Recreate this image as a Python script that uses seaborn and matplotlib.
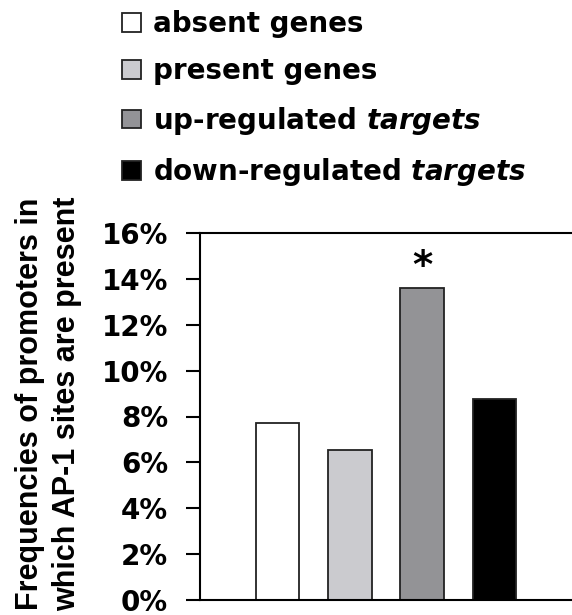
import pandas as pd
import numpy as np
import seaborn as sns
import matplotlib.pyplot as plt
from matplotlib.patches import Patch

# values (percent)
groups = ['absent genes', 'present genes', 'up-regulated targets', 'down-regulated targets']
legend_labels = ['absent genes', 'present genes',
                 r'up-regulated $\mathit{targets}$', r'down-regulated $\mathit{targets}$']
freq = [7.7, 6.55, 13.6, 8.75]
colors = ['#ffffff', '#cbcbcf', '#939397', '#000000']
yticks = [0, 2, 4, 6, 8, 10, 12, 14, 16]

df = pd.DataFrame({'group': groups, 'freq': freq})

sns.set_style('white')
plt.rcParams['font.family'] = ['DejaVu Sans']
plt.rcParams['font.weight'] = 'bold'
plt.rcParams['text.color'] = 'black'
plt.rcParams['axes.labelcolor'] = 'black'
plt.rcParams['ytick.color'] = 'black'
plt.rcParams['mathtext.fontset'] = 'custom'
plt.rcParams['mathtext.it'] = 'DejaVu Sans:italic:bold'
plt.rcParams['mathtext.rm'] = 'DejaVu Sans:bold'

fig = plt.figure(figsize=(5.72, 6.15), dpi=100)
ax = fig.add_axes([200 / 572, 1 - 600 / 615, 1 - 200 / 572, (600 - 233) / 615])

sns.barplot(data=df, x='group', y='freq', hue='group', palette=colors,
            edgecolor='#222222', linewidth=1.3, width=0.6, legend=False, ax=ax)

ax.set_xlim(-1.08, 4.08)
ax.set_ylim(0, 16)
ax.set_yticks(yticks)
ax.set_yticklabels([f'{t}%' for t in yticks], fontsize=20, fontweight='bold', color='black')
ax.set_xticks([])
ax.set_xlabel('')
ax.tick_params(axis='y', direction='out', length=10, width=1.5, pad=13, left=True,
               color='black')
for s in ['left', 'top', 'bottom']:
    ax.spines[s].set_visible(True)
    ax.spines[s].set_color('black')
    ax.spines[s].set_linewidth(1.5)
ax.spines['right'].set_visible(False)

ax.set_ylabel('Frequencies of promoters in\nwhich AP-1 sites are present',
              fontsize=22, fontweight='bold', linespacing=1.3,
              family='Liberation Sans', color='black')
ax.yaxis.set_label_coords(-0.318, 0.535)

# significance mark
ax.text(2, 14.5, '*', ha='center', va='center', fontsize=28, fontweight='bold',
        color='black')

handles = [Patch(facecolor=c, edgecolor='#222222', linewidth=1.3) for c in colors]
fig.legend(handles, legend_labels, loc='upper left',
           bbox_to_anchor=(122 / 572, 1 - 10 / 615), frameon=False,
           prop={'size': 20, 'weight': 'bold'}, handlelength=0.68, handleheight=0.65,
           handletextpad=0.45, labelspacing=0.7, borderpad=0, borderaxespad=0,
           labelcolor='black')

fig.savefig('out.png', dpi=100)
